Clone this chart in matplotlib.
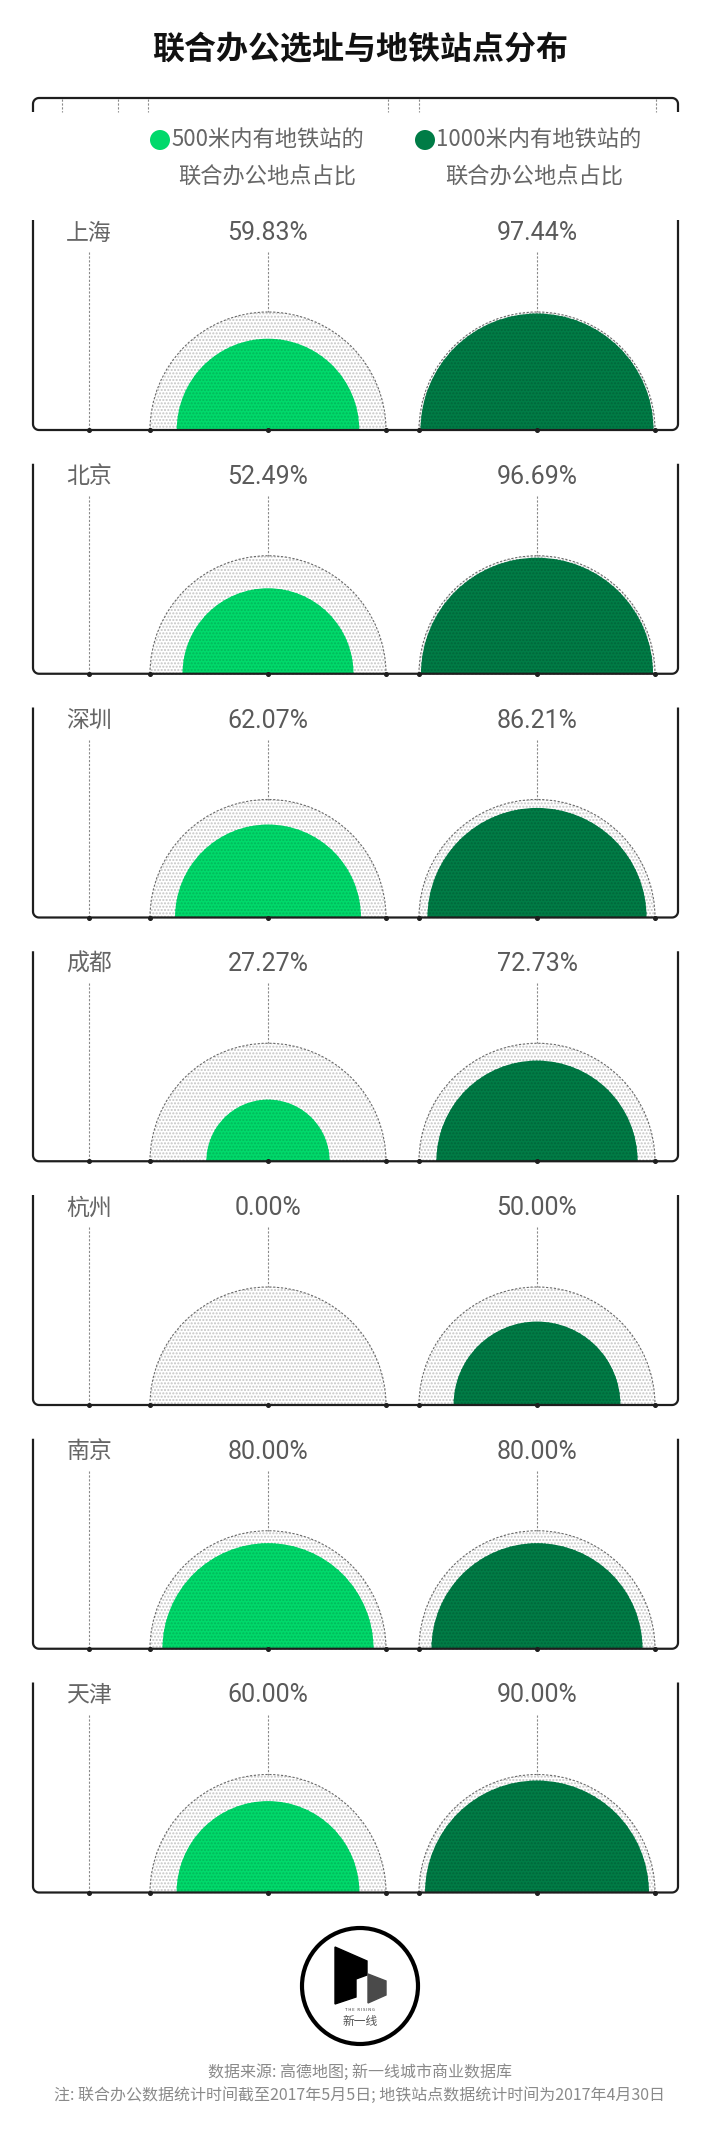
# 联合办公选址与地铁站点分布
import numpy as np
import matplotlib.pyplot as plt
from matplotlib.patches import Wedge, Circle, Polygon

plt.rcParams['font.family'] = ['Noto Sans CJK SC', 'DejaVu Sans']

# datos
cities = ['上海', '北京', '深圳', '成都', '杭州', '南京', '天津']
pct_500 = [59.83, 52.49, 62.07, 27.27, 0.00, 80.00, 60.00]
pct_1000 = [97.44, 96.69, 86.21, 72.73, 50.00, 80.00, 90.00]
legend_line1 = ['500米内有地铁站的', '1000米内有地铁站的']
legend_line2 = ['联合办公地点占比', '联合办公地点占比']
series_colors = ['#00d96b', '#007c46']
hatch_colors = ['#00b85a', '#00663a']

W, H = 720, 2136
fig = plt.figure(figsize=(W / 100, H / 100), dpi=100)
ax = fig.add_axes([0, 0, 1, 1])
ax.set_xlim(0, W)
ax.set_ylim(H, 0)
ax.axis('off')

LINE = '#1e1e1e'
GRAY = '#666666'
x0, x1 = 33, 678
x_city = 89
x_cols = [268, 537]
R = 118


def bracket(y_line, y_end, r=6, lw=1.6):
    s = np.sign(y_end - y_line)
    t1 = np.linspace(np.pi, np.pi + s * np.pi / 2, 12)
    t2 = np.linspace(-s * np.pi / 2, 0, 12)
    cy = y_line + s * r
    xs = np.concatenate([[x0], x0 + r + r * np.cos(t1), x1 - r + r * np.cos(t2), [x1]])
    ys = np.concatenate([[y_end], cy + r * np.sin(t1), cy + r * np.sin(t2), [y_end]])
    ax.plot(xs, ys, color=LINE, lw=lw, solid_capstyle='butt', zorder=5)


def dashed(x, ya, yb):
    ax.plot([x, x], [ya, yb], color='#8a8a8a', lw=0.8, ls=(0, (2, 1.5)), zorder=2)


# titulo
ax.text(360, 50, '联合办公选址与地铁站点分布', ha='center', va='center',
        fontsize=23, fontweight='bold', color='#111111')

# corchete superior y leyenda
bracket(98, 112)
for xt in [62, 118, 148, 388, 419, 656]:
    dashed(xt, 99, 112)

leg_dot_x = [160, 425]
leg_txt_x = [171, 436]
leg_c2 = [267, 534]
for i in range(2):
    ax.add_patch(Circle((leg_dot_x[i], 140), 10, color=series_colors[i], lw=0))
    ax.text(leg_txt_x[i], 140, legend_line1[i], ha='left', va='center',
            fontsize=16, color=GRAY)
    ax.text(leg_c2[i], 177, legend_line2[i], ha='center', va='center',
            fontsize=16, color=GRAY)

# paneles
base0, step = 430, 243.75
for k, city in enumerate(cities):
    base = base0 + k * step
    bracket(base, base - 210)
    ax.text(x_city, base - 197, city, ha='center', va='center', fontsize=16.5,
            color=GRAY)
    dashed(x_city, base - 178, base)
    vals = [pct_500[k], pct_1000[k]]
    for i, cx in enumerate(x_cols):
        ax.text(cx, base - 197, f'{vals[i]:.2f}%', ha='center', va='center',
                fontsize=18, color='#5a5a5a', family=['Roboto', 'DejaVu Sans'])
        dashed(cx, base - 178, base - R)
        ax.add_patch(Wedge((cx, base), R, 180, 360, facecolor='white',
                           edgecolor='#c4c4c4', hatch='.....', lw=0, zorder=1))
        ax.add_patch(Wedge((cx, base), R, 180, 360, facecolor='none',
                           edgecolor='#6a6a6a', lw=0.8, ls=(0, (2, 1.5)), zorder=3))
        r_in = R * np.sqrt(vals[i] / 100)
        if r_in > 0:
            ax.add_patch(Wedge((cx, base), r_in, 180, 360, facecolor=series_colors[i],
                               edgecolor=hatch_colors[i], hatch='.....', lw=0, zorder=4))
    ticks = [x_city, x_cols[0] - R, x_cols[0], x_cols[0] + R,
             x_cols[1] - R, x_cols[1], x_cols[1] + R]
    ax.plot(ticks, [base] * len(ticks), 'o', ms=2.6, color=LINE, zorder=6)

# logo
ax.add_patch(Circle((360, 1986), 58, facecolor='white', edgecolor='black', lw=3, zorder=5))
ax.add_patch(Polygon([(335, 1947), (367, 1961), (367, 1975), (356, 1979),
                      (356, 1997), (335, 2004)], closed=True, color='black', zorder=6))
ax.add_patch(Polygon([(368, 1974), (386, 1981), (386, 1995), (368, 2003)],
                     closed=True, color='#4a4a4a', zorder=6))
ax.text(360, 2010, 'T H E   R I S I N G', ha='center', va='center', fontsize=3,
        color='#333333', zorder=6)
ax.text(360, 2021, '新一线', ha='center', va='center', fontsize=8.5,
        color='#555555', zorder=6)

# fuente
ax.text(360, 2072, '数据来源: 高德地图; 新一线城市商业数据库', ha='center', va='center',
        fontsize=11.5, color='#8a8a8a')
ax.text(360, 2095, '注: 联合办公数据统计时间截至2017年5月5日; 地铁站点数据统计时间为2017年4月30日',
        ha='center', va='center', fontsize=11.5, color='#8a8a8a')

fig.savefig('out.png', dpi=100, facecolor='white')
